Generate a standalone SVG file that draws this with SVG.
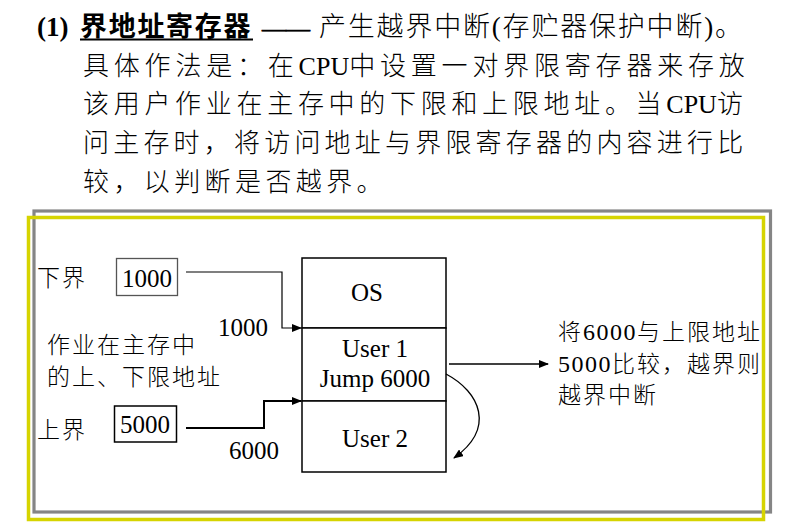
<svg xmlns="http://www.w3.org/2000/svg" width="807" height="523" viewBox="0 0 807 523">
  <defs>
    <style>
      .zh { font-family: "Noto Sans CJK SC", "Liberation Serif", serif; fill: #000; font-weight: 300; }
      .lat { font-family: "Liberation Serif", "Noto Sans CJK SC", serif; fill: #000; font-weight: normal; }
      .head { font-size: 27px; }
      .body { font-size: 26px; }
      .lbl { font-size: 23px; letter-spacing: 2px; }
      .num { font-size: 25px; }
      .cell { fill: #fff; stroke: #000; stroke-width: 1.5; }
      .wire { fill: none; stroke: #000; }
    </style>
    <marker id="tip" viewBox="0 0 10 8" refX="9" refY="4" markerWidth="10" markerHeight="8" markerUnits="userSpaceOnUse" orient="auto">
      <path d="M0,0 L10,4 L0,8 Z" fill="#000"/>
    </marker>
  </defs>

  <rect width="807" height="523" fill="#fff"/>

  <!-- heading paragraph -->
  <g id="heading">
    <text x="37" y="36" class="lat head" style="font-weight:bold">(1)</text>
    <text x="80" y="36" class="zh head" style="font-weight:bold" letter-spacing="1.7">界地址寄存器</text>
    <line x1="80" y1="39.5" x2="253" y2="39.5" stroke="#000" stroke-width="2"/>
    <text x="262" y="36" class="lat" font-size="24" stroke="#000" stroke-width="0.7">——</text>
    <text x="319" y="36" class="zh head" letter-spacing="1.8">产生越界中断<tspan class="lat">(</tspan>存贮器保护中断<tspan class="lat">)</tspan>。</text>

    <text x="83" y="75" class="zh body" letter-spacing="4.8">具体作法是：在<tspan class="lat" letter-spacing="0">CPU</tspan>中设置一对界限寄存器来存放</text>
    <text x="83" y="113" class="zh body" letter-spacing="4.7">该用户作业在主存中的下限和上限地址。当<tspan class="lat" letter-spacing="0">CPU</tspan>访</text>
    <text x="83" y="152" class="zh body" letter-spacing="4.2">问主存时，将访问地址与界限寄存器的内容进行比</text>
    <text x="83" y="191" class="zh body" letter-spacing="4.4">较，以判断是否越界。</text>
  </g>

  <!-- frames around the figure -->
  <rect x="34" y="211" width="736.5" height="301" fill="none" stroke="#858585" stroke-width="3.2"/>
  <rect x="28.5" y="217.5" width="735" height="302" fill="none" stroke="#d6d400" stroke-width="3.5"/>

  <!-- lower bound register -->
  <g id="lower-register">
    <text x="37" y="286" class="zh lbl">下界</text>
    <rect x="116.5" y="258.5" width="61" height="37" fill="#fff" stroke="#555" stroke-width="1.3"/>
    <text x="122" y="287" class="lat num">1000</text>
  </g>

  <!-- upper bound register -->
  <g id="upper-register">
    <text x="37" y="438" class="zh lbl">上界</text>
    <rect x="114.5" y="406" width="62" height="36" fill="#fff" stroke="#000" stroke-width="1.5"/>
    <text x="120" y="433" class="lat num">5000</text>
  </g>

  <!-- caption on the left -->
  <g id="bounds-note">
    <text x="47" y="353" class="zh lbl">作业在主存中</text>
    <text x="47" y="385" class="zh lbl">的上、下限地址</text>
  </g>

  <!-- main memory column -->
  <g id="memory">
    <rect x="302" y="258" width="144" height="70" class="cell"/>
    <rect x="302" y="328" width="144" height="73" class="cell"/>
    <rect x="302" y="401" width="144" height="71" class="cell"/>
    <text x="367" y="301" class="lat num" text-anchor="middle">OS</text>
    <text x="375" y="357" class="lat num" text-anchor="middle">User 1</text>
    <text x="375" y="387" class="lat num" text-anchor="middle">Jump 6000</text>
    <text x="375" y="447" class="lat num" text-anchor="middle">User 2</text>
  </g>

  <!-- caption on the right -->
  <g id="compare-note">
    <text x="558" y="340" class="zh lbl" letter-spacing="3.2">将<tspan class="lat" font-size="24" letter-spacing="1.5">6000</tspan>与上限地址</text>
    <text x="558" y="372" class="zh lbl" letter-spacing="3.2"><tspan class="lat" font-size="24" letter-spacing="1.5">5000</tspan>比较，越界则</text>
    <text x="558" y="403" class="zh lbl" letter-spacing="3.2">越界中断</text>
  </g>

  <!-- connectors -->
  <g id="connectors">
    <polyline points="186,272 282,272 282,328 301,328" class="wire" stroke="#222" stroke-width="1.2" marker-end="url(#tip)"/>
    <text x="218" y="336" class="lat num">1000</text>
    <polyline points="186,428 264,428 264,401 301,401" class="wire" stroke-width="2" marker-end="url(#tip)"/>
    <text x="229" y="459" class="lat num">6000</text>
    <line x1="449" y1="364" x2="548" y2="364" class="wire" stroke-width="1.3" marker-end="url(#tip)"/>
    <path d="M446,374 C480,392 496,428 454,458" class="wire" stroke-width="1.3" marker-end="url(#tip)"/>
  </g>
</svg>
